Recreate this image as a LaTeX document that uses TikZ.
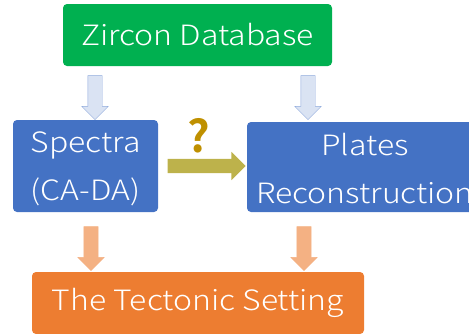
\documentclass[tikz,border=0pt]{standalone}
\usepackage{fontspec}
\setmainfont{Noto Sans CJK SC Light}[FakeStretch=1.14]
\newfontfamily\qfont{Noto Sans CJK SC Bold}
\usetikzlibrary{shapes.arrows}
\definecolor{zgreen}{HTML}{00B050}
\definecolor{pblue}{HTML}{4472C4}
\definecolor{torange}{HTML}{ED7D31}
\definecolor{afill}{HTML}{DAE3F3}
\definecolor{aline}{HTML}{8FAADC}
\definecolor{oarrow}{HTML}{F4B183}
\definecolor{olive}{HTML}{BDB24B}
\definecolor{qgold}{HTML}{BF9000}
\tikzset{
  block/.style={rounded corners=4pt,text=white,inner sep=0pt,
    font=\fontsize{28}{48}\selectfont,align=center},
  fatarrow/.style={single arrow,inner sep=0pt,single arrow head extend=6pt},
  downarrow/.style={fatarrow,rotate=-90,minimum height=44pt},
}
\newcommand{\shaft}{\rule{0pt}{14pt}}
\begin{document}
\begin{tikzpicture}[x=1pt,y=-1pt]
    \useasboundingbox(0,0)rectangle(469,333);
    \clip(0,0)rectangle(469,333);
    \node[block,fill=zgreen,minimum width=269pt,minimum height=62pt](zircon)at(197.5,35){Zircon Database};
    \node[block,fill=pblue,minimum width=145pt,minimum height=92pt](spectra)at(85.5,166){};
    \node[block,fill=pblue,minimum width=236pt,minimum height=90pt](plates)at(365,167){};
    \node[block](spectratext)at(85.5,169){Spectra\\(CA-DA)};
    \node[block](platestext)at(365,169){Plates\\Reconstruction};
    \node[block,fill=torange,minimum width=332pt,minimum height=62pt](tectonic)at(198,303){The Tectonic Setting};
    \node[downarrow,draw=aline,fill=afill](a1)at(95,94){\shaft};
    \node[downarrow,draw=aline,fill=afill](a2)at(308,94){\shaft};
    \node[downarrow,draw=oarrow,fill=oarrow](a3)at(91,245){\shaft};
    \node[downarrow,draw=oarrow,fill=oarrow](a4)at(304,245){\shaft};
    \node[fatarrow,fill=olive,minimum height=78pt,single arrow head extend=7pt](link)at(203,166){\shaft};
    \node[text=qgold,inner sep=0pt,font=\fontsize{44}{48}\qfont](q)at(199,136){?};
\end{tikzpicture}
\end{document}
